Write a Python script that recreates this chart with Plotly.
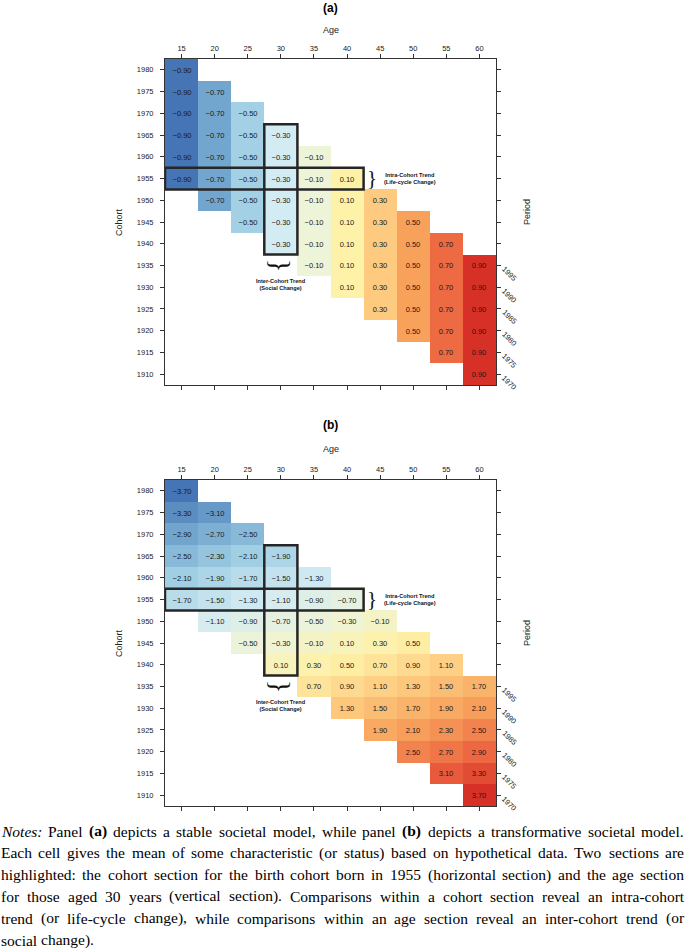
import plotly.graph_objects as go

# ---------------- data ----------------
ages = [15, 20, 25, 30, 35, 40, 45, 50, 55, 60]
cohorts = [1980, 1975, 1970, 1965, 1960, 1955, 1950, 1945, 1940, 1935, 1930, 1925, 1920, 1915, 1910]
period_labels = [1995, 1990, 1985, 1980, 1975, 1970]
N = None

# panel (a): stable societal model (rows = cohorts, cols = ages)
values_a = [
    [-0.9, N, N, N, N, N, N, N, N, N],
    [-0.9, -0.7, N, N, N, N, N, N, N, N],
    [-0.9, -0.7, -0.5, N, N, N, N, N, N, N],
    [-0.9, -0.7, -0.5, -0.3, N, N, N, N, N, N],
    [-0.9, -0.7, -0.5, -0.3, -0.1, N, N, N, N, N],
    [-0.9, -0.7, -0.5, -0.3, -0.1, 0.1, N, N, N, N],
    [N, -0.7, -0.5, -0.3, -0.1, 0.1, 0.3, N, N, N],
    [N, N, -0.5, -0.3, -0.1, 0.1, 0.3, 0.5, N, N],
    [N, N, N, -0.3, -0.1, 0.1, 0.3, 0.5, 0.7, N],
    [N, N, N, N, -0.1, 0.1, 0.3, 0.5, 0.7, 0.9],
    [N, N, N, N, N, 0.1, 0.3, 0.5, 0.7, 0.9],
    [N, N, N, N, N, N, 0.3, 0.5, 0.7, 0.9],
    [N, N, N, N, N, N, N, 0.5, 0.7, 0.9],
    [N, N, N, N, N, N, N, N, 0.7, 0.9],
    [N, N, N, N, N, N, N, N, N, 0.9],
]

# panel (b): transformative societal model
values_b = [
    [-3.7, N, N, N, N, N, N, N, N, N],
    [-3.3, -3.1, N, N, N, N, N, N, N, N],
    [-2.9, -2.7, -2.5, N, N, N, N, N, N, N],
    [-2.5, -2.3, -2.1, -1.9, N, N, N, N, N, N],
    [-2.1, -1.9, -1.7, -1.5, -1.3, N, N, N, N, N],
    [-1.7, -1.5, -1.3, -1.1, -0.9, -0.7, N, N, N, N],
    [N, -1.1, -0.9, -0.7, -0.5, -0.3, -0.1, N, N, N],
    [N, N, -0.5, -0.3, -0.1, 0.1, 0.3, 0.5, N, N],
    [N, N, N, 0.1, 0.3, 0.5, 0.7, 0.9, 1.1, N],
    [N, N, N, N, 0.7, 0.9, 1.1, 1.3, 1.5, 1.7],
    [N, N, N, N, N, 1.3, 1.5, 1.7, 1.9, 2.1],
    [N, N, N, N, N, N, 1.9, 2.1, 2.3, 2.5],
    [N, N, N, N, N, N, N, 2.5, 2.7, 2.9],
    [N, N, N, N, N, N, N, N, 3.1, 3.3],
    [N, N, N, N, N, N, N, N, N, 3.7],
]

highlight_cohort = 1955
highlight_age = 30

palette = ["#4575b4", "#72a6cf", "#a3d0e4", "#d3ebf3", "#eef4d8",
           "#fef2a8", "#fdca7f", "#f8a15b", "#ee6a43", "#d73027"]
colorscale = [[i / (len(palette) - 1), c] for i, c in enumerate(palette)]

notes_lines = [
    "*Notes:* Panel **(a)** depicts a stable societal model, while panel **(b)** depicts a transformative societal model.",
    "Each cell gives the mean of some characteristic (or status) based on hypothetical data. Two sections are",
    "highlighted: the cohort section for the birth cohort born in 1955 (horizontal section) and the age section",
    "for those aged 30 years (vertical section). Comparisons within a cohort section reveal an intra-cohort",
    "trend (or life-cycle change), while comparisons within an age section reveal an inter-cohort trend (or",
    "social change).",
]

# ---------------- layout helpers ----------------
W, H = 685, 949
PL, PR = 165, 496
panels = [
    dict(top=59, bottom=385, title_y=8, age_y=30, label="(a)", values=values_a, xa="x", ya="y"),
    dict(top=480, bottom=806, title_y=425, age_y=449, label="(b)", values=values_b, xa="x2", ya="y2"),
]


def fx(p):
    return p / W


def fy(p):
    return 1 - p / H


def fmt(v):
    return "" if v is None else f"{v:.2f}".replace("-", "\u2212")


fig = go.Figure()
shapes = []
annotations = []

tickfont = dict(family="Liberation Sans, Arial", size=7.5, color="#222222")
sans = "Liberation Sans, Arial"

for k, P in enumerate(panels):
    vals = P["values"]
    flat = [v for row in vals for v in row if v is not None]
    text = [[fmt(v) for v in row] for row in vals]
    fig.add_trace(go.Heatmap(
        x=ages, y=cohorts, z=vals, text=text, texttemplate="%{text}",
        textfont=dict(family=sans, size=7.5, color="#1a1a1a"),
        colorscale=colorscale, zmin=min(flat), zmax=max(flat),
        showscale=False, hoverinfo="skip", xgap=0, ygap=0,
        xaxis=P["xa"], yaxis=P["ya"],
    ))
    sfx = "" if k == 0 else "2"
    step = ages[1] - ages[0]
    cstep = cohorts[0] - cohorts[1]
    axcommon = dict(showgrid=False, zeroline=False, showline=True, linecolor="#333333",
                    linewidth=1, mirror="ticks", ticks="outside", ticklen=4,
                    tickcolor="#333333", tickwidth=1, tickfont=tickfont)
    fig.update_layout(**{
        "xaxis" + sfx: dict(axcommon, domain=[fx(PL), fx(PR)], anchor="y" + sfx, side="top",
                            range=[min(ages) - step / 2, max(ages) + step / 2],
                            tickvals=ages, ticktext=[str(a) for a in ages], ticklabelstandoff=0),
        "yaxis" + sfx: dict(axcommon, domain=[fy(P["bottom"]), fy(P["top"])], anchor="x" + sfx,
                            range=[min(cohorts) - cstep / 2, max(cohorts) + cstep / 2],
                            tickvals=cohorts, ticktext=[str(c) for c in cohorts], ticklabelstandoff=5),
    })
    xr, yr = P["xa"], P["ya"]
    # highlight boxes
    ci = cohorts.index(highlight_cohort)
    row_ages = [a for a, v in zip(ages, vals[ci]) if v is not None]
    ai = ages.index(highlight_age)
    col_coh = [c for c, row in zip(cohorts, vals) if row[ai] is not None]
    box = dict(type="rect", xref=xr, yref=yr, line=dict(color="#262626", width=2.5),
               fillcolor="rgba(0,0,0,0)", layer="above")
    shapes.append(dict(box, x0=min(row_ages) - step / 2, x1=max(row_ages) + step / 2,
                       y0=highlight_cohort - cstep / 2, y1=highlight_cohort + cstep / 2))
    shapes.append(dict(box, x0=highlight_age - step / 2, x1=highlight_age + step / 2,
                       y0=min(col_coh) - cstep / 2, y1=max(col_coh) + cstep / 2))
    # braces and labels
    annotations.append(dict(x=max(row_ages) + step / 2, y=highlight_cohort, xref=xr, yref=yr,
                            text="}", showarrow=False, xshift=8, yshift=1,
                            xanchor="center", yanchor="middle",
                            font=dict(family="Liberation Serif", size=21, color="#111111")))
    annotations.append(dict(x=max(row_ages) + step / 2, y=highlight_cohort, xref=xr, yref=yr,
                            text="<b>Intra-Cohort Trend<br>(Life-cycle Change)</b>", showarrow=False,
                            xshift=46, xanchor="center", yanchor="middle",
                            font=dict(family=sans, size=5.6, color="#111111")))
    annotations.append(dict(x=highlight_age, y=min(col_coh) - cstep / 2, xref=xr, yref=yr,
                            text="}", textangle=90, showarrow=False, yshift=-11,
                            xanchor="center", yanchor="middle",
                            font=dict(family="Liberation Serif", size=28, color="#111111")))
    annotations.append(dict(x=highlight_age, y=min(col_coh) - cstep / 2, xref=xr, yref=yr,
                            text="<b>Inter-Cohort Trend<br>(Social Change)</b>", showarrow=False,
                            yshift=-30, xanchor="center", yanchor="middle",
                            font=dict(family=sans, size=5.6, color="#111111")))
    # period labels on the right
    for p in period_labels:
        annotations.append(dict(x=fx(PR), xref="paper", y=p - max(ages), yref=yr, text=str(p),
                                textangle=45, xanchor="left", yanchor="top", xshift=1, yshift=4,
                                showarrow=False, font=tickfont))
    # titles
    cx = fx((PL + PR) / 2)
    cy = fy((P["top"] + P["bottom"]) / 2)
    annotations.append(dict(x=cx, y=fy(P["title_y"]), xref="paper", yref="paper",
                            text="<b>" + P["label"] + "</b>", xanchor="center", yanchor="middle",
                            showarrow=False, font=dict(family=sans, size=12, color="#000000")))
    annotations.append(dict(x=cx, y=fy(P["age_y"]), xref="paper", yref="paper", text="Age",
                            xanchor="center", yanchor="middle",
                            showarrow=False, font=dict(family=sans, size=9, color="#222222")))
    annotations.append(dict(x=fx(119), y=cy, xref="paper", yref="paper", text="Cohort", textangle=-90,
                            xanchor="center", yanchor="middle",
                            showarrow=False, font=dict(family=sans, size=9, color="#222222")))
    annotations.append(dict(x=fx(527), y=cy + 10 / H, xref="paper", yref="paper", text="Period", textangle=-90,
                            xanchor="center", yanchor="middle",
                            showarrow=False, font=dict(family=sans, size=9, color="#222222")))

# ---------------- notes (justified, Times metrics) ----------------
TR = {" ": 250, "(": 333, ")": 333, ",": 250, "-": 333, ".": 250, ":": 278}
for d in "0123456789":
    TR[d] = 500
TR.update(dict(zip("abcdefghijklmnopqrstuvwxyz",
                   [444, 500, 444, 500, 444, 333, 500, 500, 278, 278, 500, 278, 778, 500, 500, 500, 500, 333, 389, 278, 500, 500, 722, 500, 500, 444])))
TR.update(dict(zip("ABCDEFGHIJKLMNOPQRSTUVWXYZ",
                   [722, 667, 667, 722, 611, 556, 722, 722, 333, 389, 722, 611, 889, 722, 722, 556, 722, 667, 556, 611, 722, 722, 944, 722, 722, 611])))
TI = dict(TR, N=667, **{":": 333})
TB = dict(TR, a=500, b=556)

NFS = 15.5
L_EDGE, R_EDGE = 1, 684
line_y0, line_dy = 831, 21.8


def parse(word):
    if word.startswith("**"):
        w = word.strip("*")
        return w, "<b>" + w + "</b>", TB
    if word.startswith("*"):
        w = word.strip("*")
        return w, "<i>" + w + "</i>", TI
    return word, word, TR


for li, line in enumerate(notes_lines):
    words = [parse(w) for w in line.split(" ")]
    widths = [sum(m.get(c, 500) for c in w) * NFS / 1000 for w, _, m in words]
    if li < len(notes_lines) - 1 and len(words) > 1:
        gap = (R_EDGE - L_EDGE - sum(widths)) / (len(words) - 1)
    else:
        gap = 250 * NFS / 1000
    xpos = L_EDGE
    for (w, html, m), wd in zip(words, widths):
        annotations.append(dict(x=fx(xpos), y=fy(line_y0 + li * line_dy), xref="paper", yref="paper",
                                text=html, showarrow=False, xanchor="left", yanchor="middle",
                                borderpad=0, borderwidth=0,
                                font=dict(family="Liberation Serif", size=NFS, color="#000000")))
        xpos += wd + gap

fig.update_layout(width=W, height=H, margin=dict(l=0, r=0, t=0, b=0),
                  paper_bgcolor="white", plot_bgcolor="white",
                  shapes=shapes, annotations=annotations, showlegend=False)

fig.write_html("out.html", config={"displayModeBar": False},
               post_script="document.body.style.margin='0';document.body.style.overflow='hidden';")
